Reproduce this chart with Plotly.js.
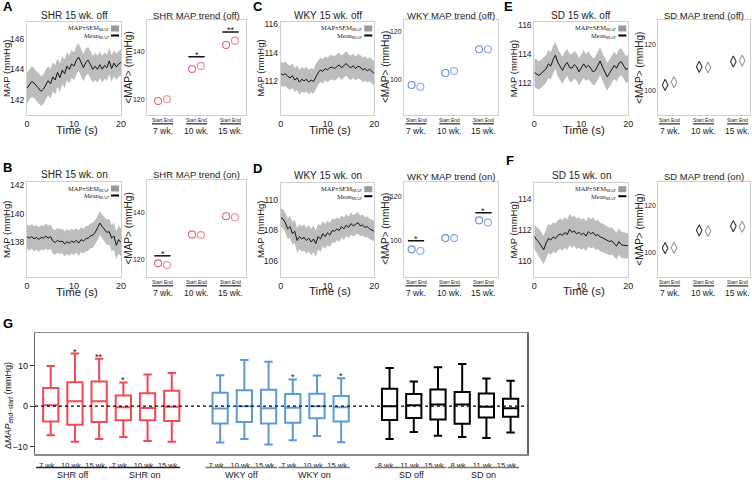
<!DOCTYPE html>
<html><head><meta charset="utf-8">
<script src="https://cdn.plot.ly/plotly-3.0.1.min.js"></script>
<style>html,body{margin:0;padding:0;background:#fff}#chart{width:752px;height:480px}</style>
</head><body><div id="chart"></div>
<script>
// ---------------- DATA ----------------
const time = [0,0.5,1,1.5,2,2.5,3,3.5,4,4.5,5,5.5,6,6.5,7,7.5,8,8.5,9,9.5,10,10.5,11,11.5,12,12.5,13,13.5,14,14.5,15,15.5,16,16.5,17,17.5,18,18.5,19,19.5,20];

const meanShrOff = [142.75,143.0,143.2,143.1,142.9,142.75,142.55,142.7,143.0,143.25,143.05,143.5,143.3,143.8,143.45,143.95,143.7,144.2,144.0,144.35,144.2,144.6,144.8,144.4,144.1,144.45,144.6,144.3,144.0,144.2,144.0,144.3,144.0,144.25,144.1,144.55,144.05,144.4,144.15,144.35,144.45];
const semShrOff = [1.0,0.98,1.02,0.99,0.97,1.0,0.98,0.96,0.99,0.95,0.97,0.94,0.96,0.93,0.95,0.92,0.94,0.93,0.91,0.93,0.9,0.92,0.9,0.91,0.89,0.9,0.88,0.9,0.87,0.89,0.88,0.86,0.88,0.87,0.85,0.87,0.86,0.84,0.86,0.85,0.85];

const meanShrOn = [138.4,138.3,138.4,138.25,138.35,138.2,138.35,138.3,138.45,138.3,138.4,138.1,138.0,138.15,138.05,138.1,137.9,138.05,137.95,138.1,138.0,138.15,137.95,138.2,138.1,138.25,138.3,138.45,138.5,138.7,139.0,139.35,139.1,138.9,138.7,138.75,138.3,138.45,137.8,138.2,138.0];
const semShrOn = [0.85,0.86,0.84,0.87,0.85,0.86,0.84,0.85,0.87,0.86,0.84,0.86,0.85,0.87,0.86,0.85,0.87,0.86,0.88,0.86,0.87,0.85,0.88,0.87,0.86,0.88,0.87,0.86,0.88,0.85,0.84,0.82,0.84,0.86,0.88,0.9,0.92,0.94,0.96,0.97,0.95];

const meanWkyOff = [112.55,112.45,112.55,112.35,112.25,112.4,112.1,112.25,111.95,112.15,112.05,112.15,111.95,112.1,112.0,112.35,112.6,112.8,112.7,112.9,112.8,112.95,113.0,112.9,113.05,113.15,112.95,113.1,113.25,113.05,112.95,113.1,112.9,113.05,113.0,112.8,112.9,112.75,112.85,112.7,112.55];
const semWkyOff = [0.85,0.84,0.86,0.85,0.83,0.86,0.84,0.85,0.87,0.86,0.84,0.85,0.86,0.84,0.85,0.87,0.86,0.84,0.85,0.83,0.85,0.86,0.84,0.85,0.86,0.84,0.85,0.83,0.84,0.86,0.85,0.84,0.83,0.85,0.84,0.86,0.85,0.83,0.84,0.85,0.84];

const meanWkyOn = [108.85,108.75,108.5,108.1,108.25,107.8,107.95,107.35,107.6,107.45,107.55,107.35,107.5,107.25,107.45,107.15,107.6,107.45,107.8,107.6,107.85,107.7,108.0,107.95,108.1,108.0,108.25,108.1,108.35,108.2,108.45,108.3,108.4,108.5,108.3,108.35,108.2,108.25,108.1,108.05,107.95];
const semWkyOn = [0.6,0.62,0.65,0.67,0.71,0.73,0.77,0.79,0.82,0.83,0.85,0.84,0.86,0.85,0.87,0.85,0.84,0.85,0.82,0.81,0.8,0.78,0.77,0.76,0.74,0.75,0.72,0.73,0.71,0.7,0.71,0.69,0.68,0.69,0.67,0.68,0.66,0.67,0.65,0.66,0.65];

const meanSdOff = [112.7,112.6,112.5,112.65,112.8,112.95,113.3,113.15,113.6,113.9,113.4,113.1,112.85,113.2,113.4,113.05,113.0,113.25,113.1,112.75,113.0,113.3,113.05,113.2,113.0,112.75,112.85,113.2,113.5,113.1,112.75,112.4,112.65,112.95,113.2,113.0,113.35,113.45,113.2,112.9,113.0];
const semSdOff = [1.0,0.97,0.99,0.96,0.98,0.95,0.97,0.94,0.96,0.93,0.95,0.97,0.94,0.96,0.93,0.95,0.97,0.94,0.96,0.95,0.93,0.96,0.94,0.97,0.95,0.93,0.96,0.94,0.97,0.95,0.93,0.96,0.94,0.92,0.95,0.93,0.96,0.94,0.92,0.95,0.94];

const meanSdOn = [111.6,111.35,111.2,110.9,110.7,111.15,111.45,111.35,111.55,111.45,111.65,111.75,111.65,111.85,111.7,112.05,111.85,111.95,111.75,111.85,111.7,111.8,111.6,111.9,111.75,111.85,111.65,111.7,111.55,111.5,111.4,111.35,111.25,111.3,111.1,110.95,111.25,111.05,111.0,111.0,110.95];
const semSdOn = [0.82,0.85,0.88,0.9,0.92,0.94,0.95,0.97,0.96,0.98,0.99,1.0,0.99,1.01,1.0,1.02,1.0,0.99,1.01,1.0,0.98,0.99,0.97,0.98,0.96,0.97,0.95,0.96,0.94,0.93,0.92,0.91,0.9,0.89,0.88,0.88,0.87,0.86,0.86,0.85,0.85];

// trend (<MAP>) at start / end of recording
const trendAges = ['7 wk.','10 wk.','15 wk.'];
const shrOffStart = [119.6,132.9,142.9], shrOffEnd = [120.3,134.2,144.7];
const shrOnStart  = [118.3,130.6,138.3], shrOnEnd  = [117.6,130.3,137.9];
const wkyOffStart = [97.9,102.9,112.7],  wkyOffEnd = [97.2,103.7,112.7];
const wkyOnStart  = [96.3,101.3,109.2],  wkyOnEnd  = [95.6,101.3,108.3];
const sdOffStart  = [102.5,110.3,112.6], sdOffEnd  = [103.7,110.0,113.0];
const sdOnStart   = [102.0,109.6,111.4], sdOnEnd   = [102.1,109.3,111.1];
const shrOffSig = ['','*','**'], shrOffSigY = [null,138.0,148.3];
const shrOnSig  = ['*','',''],   shrOnSigY  = [121.5,null,null];
const wkyOnSig  = ['*','','*'],  wkyOnSigY  = [100.1,null,112.6];
const noSig = ['','',''], noSigY = [null,null,null];

// panel G: delta MAP (end - start), boxes ordered strain / condition / age
const gStrains = ['SHR','WKY','SD'];
const gConditions = ['off','on'];
const gAges = [['7 wk.','10 wk.','15 wk.'],['7 wk.','10 wk.','15 wk.'],['8 wk.','11 wk.','15 wk.']];
const gUpper  = [9.9,13.0,11.7, 5.85,7.8,8.2, 7.65,11.4,11.0, 6.6,7.6,6.9, 9.4,6.1,9.6, 10.4,6.8,6.3];
const gQ3     = [4.5,5.9,6.1, 2.6,3.2,3.8, 3.3,3.95,4.05, 3.0,3.05,2.5, 4.3,3.0,4.1, 3.5,3.1,1.8];
const gMedian = [0.2,1.2,1.2, -0.25,-0.45,-0.15, -0.6,0.0,-0.5, -0.4,-0.05,-0.25, 0.0,0.2,0.4, 0.4,-0.15,-0.5];
const gQ1     = [-3.8,-4.6,-3.9, -3.5,-3.5,-3.7, -4.3,-3.9,-4.3, -4.1,-3.0,-3.8, -3.45,-2.9,-3.3, -4.35,-2.8,-2.6];
const gLower  = [-7.2,-8.8,-8.1, -7.6,-8.6,-8.8, -9.0,-8.1,-9.5, -8.4,-7.4,-8.9, -8.1,-6.4,-7.3, -7.65,-7.9,-6.5];
const gSig    = ['','*','**', '*','','', '','','', '*','','*', '','','', '','',''];

// ---------------- LAYOUT ----------------
const W = 752, H = 480;
const PX = x => x / W, PY = y => 1 - y / H;
const FONT = 'Liberation Sans, Arial, sans-serif';
const SERIF = 'Liberation Serif, Times New Roman, serif';
const RED = '#ef4a55', REDM = '#f0626c', BLUE = '#5b9bd5', BLUEM = '#6a8fd8';

const layout = {width:W, height:H, margin:{l:0,r:0,t:0,b:0}, paper_bgcolor:'#fff', plot_bgcolor:'rgba(0,0,0,0)',
  showlegend:false, font:{family:FONT, size:9, color:'#222'}, annotations:[], shapes:[]};
const traces = [];
function ann(o){ layout.annotations.push(Object.assign({showarrow:false, xref:'paper', yref:'paper', font:{size:9, color:'#222'}}, o)); }

// panel letters
[['A',1,7],['B',1,167.5],['C',251,7],['D',251,168],['E',502,7],['F',504,160.5],['G',1,323.5]].forEach(l=>{
  ann({text:'<b>'+l[0]+'</b>', x:PX(l[1]), y:PY(l[2]), xanchor:'left', yanchor:'middle', font:{size:13, color:'#000', family:FONT}});
});

const tsPanels = [
  {title:'SHR 15 wk. off', mean:meanShrOff, sem:semShrOff, box:[27,121,22,115],      yr:[141.0,147.1],   yt:[142,144,146]},
  {title:'SHR 15 wk. on',  mean:meanShrOn,  sem:semShrOn,  box:[27,121,182,277],     yr:[135.6,142.2],   yt:[138,140,142]},
  {title:'WKY 15 wk. off', mean:meanWkyOff, sem:semWkyOff, box:[280.7,374.3,22,115], yr:[109.67,116.13], yt:[112,114,116]},
  {title:'WKY 15 wk. on',  mean:meanWkyOn,  sem:semWkyOn,  box:[280.7,374.3,182.7,276.7], yr:[105.0,111.1], yt:[106,108,110]},
  {title:'SD 15 wk. off',  mean:meanSdOff,  sem:semSdOff,  box:[534.3,628.3,22,115], yr:[109.76,116.2],  yt:[112,114,116]},
  {title:'SD 15 wk. on',   mean:meanSdOn,   sem:semSdOn,   box:[534.3,628.3,182.7,276.7], yr:[108.95,115.1], yt:[110,112,114]}
];

tsPanels.forEach((p,i)=>{
  const n = i+1, xa = 'x'+n, ya = 'y'+n;
  const [x0,x1,y0,y1] = p.box;
  layout['xaxis'+n] = {domain:[PX(x0),PX(x1)], range:[0,20], tickvals:[0,10,20], ticks:'', showline:true, mirror:true,
    linecolor:'#cfcfcf', linewidth:1, showgrid:false, zeroline:false, anchor:ya, tickfont:{size:9, color:'#222'}, ticklabelstandoff:0};
  layout['yaxis'+n] = {domain:[PY(y1),PY(y0)], range:p.yr, tickvals:p.yt, ticks:'', showline:true, mirror:true,
    linecolor:'#cfcfcf', linewidth:1, showgrid:false, zeroline:false, anchor:xa, tickfont:{size:8.5, color:'#222'}};
  const lo = p.mean.map((m,k)=>m - p.sem[k]);
  const hi = p.mean.map((m,k)=>m + p.sem[k]);
  traces.push({type:'scatter', x:time, y:lo, xaxis:xa, yaxis:ya, mode:'lines', line:{width:0, color:'rgba(0,0,0,0)'}, hoverinfo:'skip'});
  traces.push({type:'scatter', x:time, y:hi, xaxis:xa, yaxis:ya, mode:'lines', line:{width:0, color:'rgba(0,0,0,0)'}, fill:'tonexty', fillcolor:'#bdbdbd', hoverinfo:'skip'});
  traces.push({type:'scatter', x:time, y:p.mean, xaxis:xa, yaxis:ya, mode:'lines', line:{width:1, color:'#111'}});
  const cx = (x0+x1)/2, cy = (y0+y1)/2;
  ann({text:p.title, x:PX(cx), y:PY(y0-7), xanchor:'center', yanchor:'middle', font:{size:10, color:'#222', family:FONT}});
  ann({text:'Time (s)', x:PX(cx+2.5), y:PY(y1+14.5), xanchor:'center', yanchor:'middle', font:{size:11.5, color:'#222', family:FONT}});
  ann({text:'MAP (mmHg)', x:PX(x0-20.5), y:PY(cy), xanchor:'center', yanchor:'middle', textangle:-90, font:{size:9.5, color:'#222', family:FONT}});
  // legend
  ann({text:'MAP±SEM<sub>MAP</sub>', x:PX(x1-10.5), y:PY(y0+6.5), xanchor:'right', yanchor:'middle', font:{size:6.5, color:'#222', family:SERIF}});
  ann({text:'Mean<sub>MAP</sub>', x:PX(x1-10.5), y:PY(y0+14), xanchor:'right', yanchor:'middle', font:{size:6.5, color:'#222', family:SERIF}});
  layout.shapes.push({type:'rect', xref:'paper', yref:'paper', x0:PX(x1-10), x1:PX(x1-2), y0:PY(y0+9.5), y1:PY(y0+3.5), fillcolor:'#999', line:{width:0}});
  layout.shapes.push({type:'line', xref:'paper', yref:'paper', x0:PX(x1-10), x1:PX(x1-2), y0:PY(y0+13.5), y1:PY(y0+13.5), line:{width:2, color:'#000'}});
});

const trPanels = [
  {title:'SHR MAP trend (off)', start:shrOffStart, end:shrOffEnd, sig:shrOffSig, sigY:shrOffSigY, col:REDM, col2:REDM, sym:'circle-open', size:7, box:[147,246,20,115], xr:[-0.456,2.456], yr:[113.75,153.3], yt:[120,140], tOff:19},
  {title:'SHR MAP trend (on)',  start:shrOnStart,  end:shrOnEnd,  sig:shrOnSig,  sigY:shrOnSigY,  col:REDM, col2:REDM, sym:'circle-open', size:7, box:[147,246,180,277], xr:[-0.456,2.456], yr:[112.5,153.7], yt:[120,140], tOff:19},
  {title:'WKY MAP trend (off)', start:wkyOffStart, end:wkyOffEnd, sig:noSig,     sigY:noSigY,     col:BLUEM, col2:BLUEM, sym:'circle-open', size:7, box:[404,498,20,115], xr:[-0.356,2.43], yr:[85.5,124.8], yt:[100,120], tOff:18.5},
  {title:'WKY MAP trend (on)',  start:wkyOnStart,  end:wkyOnEnd,  sig:wkyOnSig,  sigY:wkyOnSigY,  col:BLUEM, col2:BLUEM, sym:'circle-open', size:7, box:[404,498,181.7,277], xr:[-0.356,2.43], yr:[84,126.4], yt:[100,120], tOff:18.5},
  {title:'SD MAP trend (off)',  start:sdOffStart,  end:sdOffEnd,  sig:noSig,     sigY:noSigY,     col:'#333', col2:'#777', sym:'diamond-tall-open', size:8, box:[658.3,750,20,115], xr:[-0.33,2.36], yr:[89.5,130.5], yt:[100,120], tOff:19},
  {title:'SD MAP trend (on)',   start:sdOnStart,   end:sdOnEnd,   sig:noSig,     sigY:noSigY,     col:'#333', col2:'#777', sym:'diamond-tall-open', size:8, box:[658.3,750,181.7,277], xr:[-0.33,2.36], yr:[89.6,130.4], yt:[100,120], tOff:19}
];

trPanels.forEach((p,i)=>{
  const n = i+7, xa = 'x'+n, ya = 'y'+n;
  const [x0,x1,y0,y1] = p.box;
  layout['xaxis'+n] = {domain:[PX(x0),PX(x1)], range:p.xr, showticklabels:false, ticks:'', showline:true, mirror:true,
    linecolor:'#cfcfcf', linewidth:1, showgrid:false, zeroline:false, anchor:ya};
  layout['yaxis'+n] = {domain:[PY(y1),PY(y0)], range:p.yr, tickvals:p.yt, ticks:'', showline:true, mirror:true,
    linecolor:'#cfcfcf', linewidth:1, showgrid:false, zeroline:false, anchor:xa, tickfont:{size:7, color:'#222'}, ticklabelstandoff:0};
  const g = trendAges.map((a,k)=>k);
  traces.push({type:'scatter', x:g.map(v=>v-0.13), y:p.start, xaxis:xa, yaxis:ya, mode:'markers',
    marker:{symbol:p.sym, size:p.size, color:p.col, line:{width:1.1, color:p.col}}});
  traces.push({type:'scatter', x:g.map(v=>v+0.13), y:p.end, xaxis:xa, yaxis:ya, mode:'markers', opacity:0.75,
    marker:{symbol:p.sym, size:p.size, color:p.col2, line:{width:1.1, color:p.col2}}});
  ann({text:p.title, x:PX((x0+x1)/2), y:PY(y0-5), xanchor:'center', yanchor:'middle', font:{size:9.5, color:'#222', family:FONT}});
  ann({text:'&lt;MAP&gt; (mmHg)', x:PX(x0-p.tOff), y:PY((y0+y1)/2), xanchor:'center', yanchor:'middle', textangle:-90, font:{size:10, color:'#222', family:FONT}});
  trendAges.forEach((a,k)=>{
    ann({text:'Start End', xref:xa, x:k, y:PY(y1+5), xanchor:'center', yanchor:'middle', font:{size:5, color:'#222', family:FONT}});
    layout.shapes.push({type:'line', xref:xa, yref:'paper', x0:k-0.31, x1:k+0.31, y0:PY(y1+8.8), y1:PY(y1+8.8), line:{width:1.3, color:'#333'}});
    ann({text:a, xref:xa, x:k, y:PY(y1+16), xanchor:'center', yanchor:'middle', font:{size:8.5, color:'#222', family:FONT}});
    if (p.sig[k]) {
      layout.shapes.push({type:'line', xref:xa, yref:ya, x0:k-0.24, x1:k+0.24, y0:p.sigY[k], y1:p.sigY[k], line:{width:1.5, color:'#111'}});
      ann({text:p.sig[k], xref:xa, yref:ya, x:k, y:p.sigY[k], xanchor:'center', yanchor:'bottom', yshift:-5, font:{size:9, color:'#111', family:FONT}});
    }
  });
});

// ---------------- PANEL G ----------------
const gBox = [35,527.3,333.3,454.3];
const gColors = [RED, BLUE, '#000'];
const gPos = [], gText = [];
gStrains.forEach((s,si)=>{
  gConditions.forEach((c,ci)=>{
    gAges[si].forEach((a,ai)=>{ gPos.push(si*7 + ci*3 + ai); gText.push(a); });
  });
});
layout.xaxis13 = {domain:[PX(gBox[0]),PX(gBox[1])], range:[-0.65,19.69], tickvals:gPos, ticktext:gText, ticks:'', tickangle:0,
  showline:true, mirror:true, linecolor:'#8a8a8a', linewidth:1.3, showgrid:false, zeroline:false, anchor:'y13',
  tickfont:{size:7.5, color:'#222'}, ticklabelstandoff:3, ticklabelshift:-3};
layout.yaxis13 = {domain:[PY(gBox[3]),PY(gBox[2])], range:[-11.9,18], tickvals:[-10,0,10], ticks:'outside', ticklen:4, tickwidth:1.2,
  tickcolor:'#333', showline:true, mirror:true, linecolor:'#666', linewidth:1.3, showgrid:false, zeroline:false, anchor:'x13',
  tickfont:{size:9, color:'#111'}};
gStrains.forEach((s,si)=>{
  const sl = arr => arr.slice(si*6, si*6+6);
  traces.push({type:'box', xaxis:'x13', yaxis:'y13', x:sl(gPos), q1:sl(gQ1), median:sl(gMedian), q3:sl(gQ3),
    lowerfence:sl(gLower), upperfence:sl(gUpper), width:0.63, whiskerwidth:0.55, boxpoints:false,
    line:{color:gColors[si], width:2}, fillcolor:'rgba(0,0,0,0)', hoverinfo:'skip', name:s});
});
layout.shapes.push({type:'line', xref:'x13 domain', yref:'y13', x0:0, x1:1, y0:0, y1:0, line:{dash:'dot', width:1.1, color:'#000'}});
gSig.forEach((t,k)=>{ if(t) ann({text:t, xref:'x13', yref:'y13', x:gPos[k], y:gUpper[k], xanchor:'center', yanchor:'bottom', yshift:-5, font:{size:9, color:'#111', family:FONT}}); });
gStrains.forEach((s,si)=>{
  gConditions.forEach((c,ci)=>{
    const first = si*7 + ci*3, last = first + 2;
    const uc = si === 0 ? '#222' : '#777';
    layout.shapes.push({type:'line', xref:'x13', yref:'paper', x0:first-0.6, x1:last+0.35, y0:PY(467.5), y1:PY(467.5), line:{width:1.4, color:uc}});
    ann({text:s+' '+c, xref:'x13', x:(first+last)/2 - 0.1, y:PY(474.5), xanchor:'center', yanchor:'middle', font:{size:9, color:'#222', family:FONT}});
  });
});
ann({text:'Δ<i>MAP<sub>end−start</sub></i> (mmHg)', x:PX(8), y:PY(406), xanchor:'center', yanchor:'middle', textangle:-90, font:{size:9, color:'#222', family:FONT}});

Plotly.newPlot('chart', traces, layout, {displayModeBar:false, staticPlot:true});
</script>
</body></html>
